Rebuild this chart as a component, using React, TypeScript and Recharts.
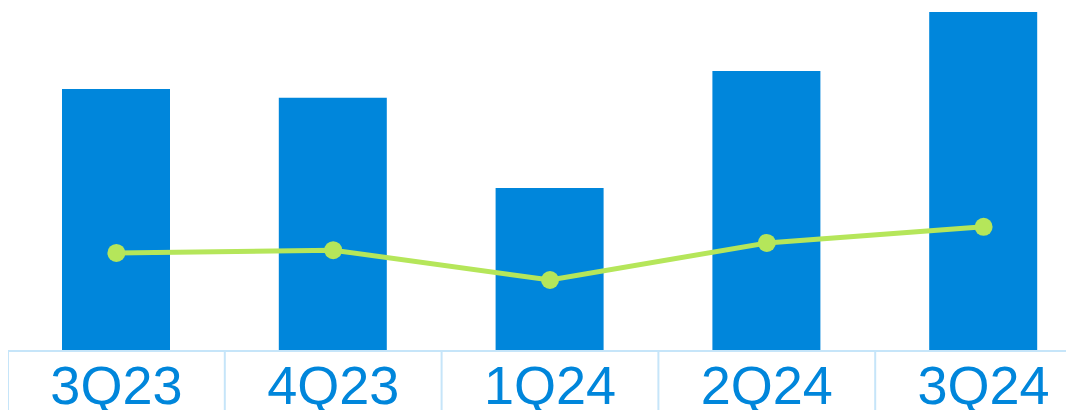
import { ComposedChart, Bar, Line, XAxis, YAxis } from "recharts";

const quarters = ["3Q23", "4Q23", "1Q24", "2Q24", "3Q24"];
const barValues = [7.64, 7.38, 4.75, 8.16, 9.88];
const lineValues = [2.86, 2.94, 2.07, 3.15, 3.62];

const data = quarters.map((q, i) => ({ q, bar: barValues[i], line: lineValues[i] }));

const WIDTH = 1084;
const BAND = WIDTH / quarters.length;
const BLUE = "#0086DB";
const GREEN = "#B5E65A";
const GRID = "#C6E5F9";

function QuarterTick({ x, y, payload }: any) {
  return (
    <g>
      <line x1={x - BAND / 2} x2={x - BAND / 2} y1={y} y2={y + 59} stroke={GRID} strokeWidth={2} />
      <text
        x={x}
        y={y + 53}
        textAnchor="middle"
        fontSize={54}
        fontFamily="'Liberation Sans', Arial, sans-serif"
        fill={BLUE}
      >
        {payload.value}
      </text>
    </g>
  );
}

export default function App() {
  return (
    <div style={{ width: 1066, height: 402, overflow: "hidden" }}>
      <ComposedChart width={WIDTH} height={402} data={data} margin={{ top: 0, right: 0, bottom: 0, left: 0 }}>
        <XAxis
          dataKey="q"
          height={59}
          tickLine={false}
          tickSize={0}
          tickMargin={0}
          axisLine={{ stroke: GRID, strokeWidth: 2 }}
          tick={<QuarterTick />}
          interval={0}
        />
        <YAxis hide domain={[0, 10]} />
        <Bar dataKey="bar" fill={BLUE} barSize={108} isAnimationActive={false} />
        <Line
          dataKey="line"
          stroke={GREEN}
          strokeWidth={5}
          dot={{ r: 9, fill: GREEN, stroke: "none" }}
          activeDot={false}
          isAnimationActive={false}
        />
      </ComposedChart>
    </div>
  );
}
